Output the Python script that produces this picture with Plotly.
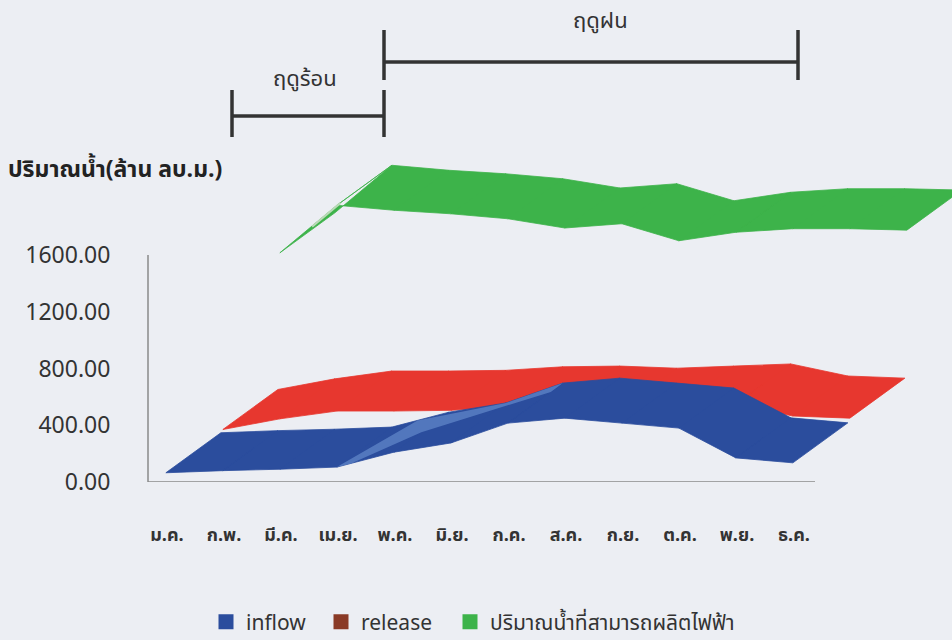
import plotly.graph_objects as go

# ---- data -------------------------------------------------------------
months = ["ม.ค.", "ก.พ.", "มี.ค.", "เม.ย.", "พ.ค.", "มิ.ย.",
          "ก.ค.", "ส.ค.", "ก.ย.", "ต.ค.", "พ.ย.", "ธ.ค."]
inflow = [65, 80, 90, 105, 210, 275, 415, 450, 415, 380, 170, 135]
release = [60, 135, 190, 190, 195, 220, 225, 210, 225, 240, 155, 140]
power_water = [995, 1330, 1295, 1270, 1235, 1170, 1200, 1080, 1140, 1165, 1165, 1155]
value_ticks = [0, 400, 800, 1200, 1600]

series_names = ["inflow", "release", "ปริมาณน้ำที่สามารถผลิตไฟฟ้า"]
series_values = [inflow, release, power_water]

# ---- style ------------------------------------------------------------
ribbon_colors = ["#2b4d9d", "#e7372f", "#3db34a"]
legend_colors = ["#2b4d9d", "#8a3a26", "#3db34a"]
BG = "#eceef3"
TEXT = "#333333"
FONT = "Tahoma, 'Noto Sans Thai', 'Noto Sans', sans-serif"

# oblique 3-D look: each series sits in its own depth row
ROW_DX, ROW_DY = 1.0, 310          # shift from one row to the next (months, value units)
DEPTH_DX, DEPTH_DY = 0.965, 282    # thickness of a ribbon
X_START = -0.02

W, H = 952, 640
ML, MR, MT, MB = 148, 0, 140, 158
PX_PER_MONTH = 57.0
PX_PER_UNIT = 0.1419
plot_w = W - ML - MR
plot_h = H - MT - MB
x_lo = -19 / PX_PER_MONTH
x_range = [x_lo, x_lo + plot_w / PX_PER_MONTH]
y_range = [0, plot_h / PX_PER_UNIT]


def px_x(px):
    return (px - ML) / plot_w


def px_y(py):
    return (H - MB - py) / plot_h


def front(values, row, i):
    return (i + X_START + row * ROW_DX, values[i] + row * ROW_DY)


def back(values, row, i):
    fx, fy = front(values, row, i)
    return (fx + DEPTH_DX, fy + DEPTH_DY)


def ribbon(values, row):
    xs, ys = [], []
    for i in range(len(values) - 1):
        quad = [front(values, row, i), front(values, row, i + 1),
                back(values, row, i + 1), back(values, row, i),
                front(values, row, i)]
        xs += [p[0] for p in quad] + [None]
        ys += [p[1] for p in quad] + [None]
    return xs, ys


def lerp(a, b, t):
    return (a[0] + (b[0] - a[0]) * t, a[1] + (b[1] - a[1]) * t)


fig = go.Figure()

# back rows first so nearer ribbons cover them
for row in [2, 1, 0]:
    xs, ys = ribbon(series_values[row], row)
    fig.add_trace(go.Scatter(
        x=xs, y=ys, mode="lines", fill="toself",
        fillcolor=ribbon_colors[row],
        line=dict(color=ribbon_colors[row], width=0.8),
        hoverinfo="skip", showlegend=False))

    if row == 2:
        # pale highlight on the steep first segment
        a = front(power_water, 2, 0)
        b = front(power_water, 2, 1)
        p0 = lerp(a, b, 0.45)
        p1 = lerp(a, b, 0.95)
        off = (DEPTH_DX * 0.12, DEPTH_DY * 0.12)
        fig.add_trace(go.Scatter(
            x=[p0[0] + off[0], p1[0] + off[0]], y=[p0[1] + off[1], p1[1] + off[1]],
            mode="lines", line=dict(color="#b9d9b6", width=2),
            hoverinfo="skip", showlegend=False))

# light sheen where the inflow ribbon climbs
f3, f4, f6 = front(inflow, 0, 3), front(inflow, 0, 4), front(inflow, 0, 6)
b3, b4, b5, b6 = (back(inflow, 0, i) for i in (3, 4, 5, 6))
sheen = [f3, lerp(b3, b4, 0.45), b5, b6, lerp(b6, f6, 0.22),
         lerp(f4, b4, 0.5), lerp(f3, f4, 0.25), f3]
fig.add_trace(go.Scatter(
    x=[p[0] for p in sheen], y=[p[1] for p in sheen],
    mode="lines", fill="toself", fillcolor="rgba(92,130,198,0.8)",
    line=dict(width=0), hoverinfo="skip", showlegend=False))

# legend swatches, one small legend per entry
legend_ids = ["legend", "legend2", "legend3"]
legend_left = [206, 321, 450]
for name, col, lid in zip(series_names, legend_colors, legend_ids):
    fig.add_trace(go.Scatter(
        x=[None], y=[None], mode="markers", name=name, legend=lid,
        marker=dict(symbol="square", size=15, color=col)))

# axis lines
fig.add_shape(type="line", xref="paper", yref="y", x0=0, x1=0, y0=0, y1=1600,
              line=dict(color="#8a8a8a", width=1.5))
fig.add_shape(type="line", xref="paper", yref="y", x0=0, x1=px_x(815), y0=0, y1=0,
              line=dict(color="#8a8a8a", width=1.5))

# season brackets
bracket = dict(color="#333333", width=3.5)
seasons = [
    ("ฤดูร้อน", 232, 384, 116, 90, 137, 305, 80),
    ("ฤดูฝน", 384, 798, 62, 30, 80, 600, 22),
]
for label, xa, xb, yb, yt0, yt1, tx, ty in seasons:
    fig.add_shape(type="line", xref="paper", yref="paper",
                  x0=px_x(xa), x1=px_x(xb), y0=px_y(yb), y1=px_y(yb), line=bracket)
    for xe in (xa, xb):
        fig.add_shape(type="line", xref="paper", yref="paper",
                      x0=px_x(xe), x1=px_x(xe), y0=px_y(yt0), y1=px_y(yt1), line=bracket)
    fig.add_annotation(x=px_x(tx), y=px_y(ty), xref="paper", yref="paper",
                       xanchor="center", yanchor="middle",
                       text=label, showarrow=False,
                       font=dict(size=22, color=TEXT, family=FONT))

# value-axis title
fig.add_annotation(x=px_x(6), y=px_y(170), xref="paper", yref="paper",
                   xanchor="left", yanchor="middle", showarrow=False,
                   text="<b>ปริมาณน้ำ(ล้าน ลบ.ม.)</b>",
                   font=dict(size=23, color="#222222", family=FONT))

fig.update_xaxes(range=x_range, showgrid=False, zeroline=False, showline=False,
                 tickmode="array", tickvals=list(range(len(months))),
                 ticktext=[f"<b>{m}</b>" for m in months],
                 ticks="outside", ticklen=36, tickcolor="rgba(0,0,0,0)",
                 tickfont=dict(size=18, color=TEXT, family=FONT))
fig.update_yaxes(range=y_range, showgrid=False, zeroline=False, showline=False,
                 tickmode="array", tickvals=value_ticks,
                 ticktext=[f"{v:.2f}" for v in value_ticks],
                 ticks="outside", ticklen=32, tickcolor="rgba(0,0,0,0)",
                 tickfont=dict(size=23, color=TEXT, family=FONT))

legend_style = dict(orientation="h", xanchor="left", yanchor="middle",
                    y=px_y(622), font=dict(size=21, color=TEXT, family=FONT),
                    bgcolor="rgba(0,0,0,0)")
fig.update_layout(
    width=W, height=H,
    margin=dict(l=ML, r=MR, t=MT, b=MB, autoexpand=False),
    paper_bgcolor=BG, plot_bgcolor=BG,
    showlegend=True,
    legend=dict(x=px_x(legend_left[0]), **legend_style),
    legend2=dict(x=px_x(legend_left[1]), **legend_style),
    legend3=dict(x=px_x(legend_left[2]), **legend_style),
)

fig.write_html("out.html")
